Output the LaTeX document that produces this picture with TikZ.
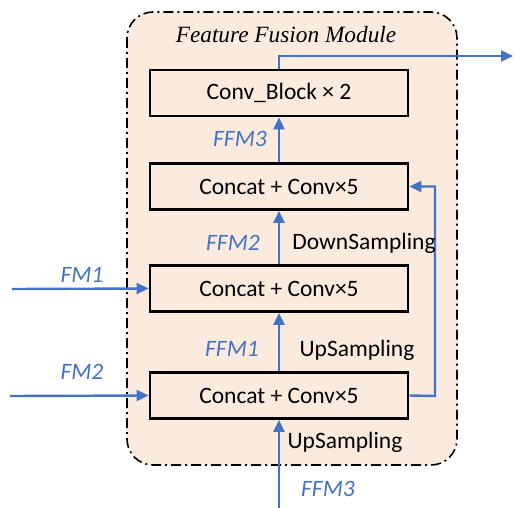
\documentclass[tikz,border=0pt]{standalone}
\usepackage{fontspec}
\setmainfont{Carlito}
\newfontfamily\titlefont{Liberation Serif}
\usetikzlibrary{arrows.meta}
\definecolor{fblue}{HTML}{4472C4}
\definecolor{peach}{HTML}{FBEBDF}
\tikzset{
  blk/.style={draw=black, line width=2.8pt, minimum width=258pt, minimum height=46pt, inner sep=0pt, font=\fontsize{23.5}{26}\selectfont},
  conn/.style={draw=fblue, line width=2.4pt, -{Triangle[length=12pt,width=11pt]}},
  blab/.style={text=fblue, font=\fontsize{23.5}{26}\selectfont\itshape, inner sep=0pt},
  klab/.style={text=black, font=\fontsize{23.5}{26}\selectfont, inner sep=0pt}
}
\begin{document}
\begin{tikzpicture}[x=1pt,y=-1pt]
\useasboundingbox (0,0) rectangle (514,508);
\draw[dash pattern=on 10pt off 4pt on 2pt off 4pt, line width=1.6pt, fill=peach, rounded corners=26pt] (127,12) rectangle (457,465);
\node[font=\titlefont\fontsize{23.3}{26}\selectfont\itshape, inner sep=0pt] (title) at (286,35) {Feature Fusion Module};
\node[blk] (b1) at (279,93) {Conv\_Block × 2};
\node[blk] (b2) at (279,186.5) {Concat + Conv×5};
\node[blk] (b3) at (279,288.5) {Concat + Conv×5};
\node[blk] (b4) at (279,395.5) {Concat + Conv×5};
\coordinate (out) at (513,56);
\coordinate (fm1) at (12,289);
\coordinate (fm2) at (10,396);
\coordinate (bot) at (279,508);
\coordinate (rc) at (435,396);
\draw[conn] (b1.north) |- (out);
\draw[conn] (b2.north) -- (b1.south);
\draw[conn] (b3.north) -- (b2.south);
\draw[conn] (b4.north) -- (b3.south);
\draw[conn] (bot) -- (b4.south);
\draw[conn] (fm1) -- (b3.west);
\draw[conn] (fm2) -- (b4.west);
\draw[conn] (b4.east) -- (rc) |- (b2.east);
\node[blab] (lffm3a) at (240,139) {FFM3};
\node[blab] (lffm2) at (233,243) {FFM2};
\node[klab] (ldown) at (364,243) {DownSampling};
\node[blab] (lffm1) at (232,349) {FFM1};
\node[klab] (lup1) at (357,350) {UpSampling};
\node[blab] (lfm1) at (82,275) {FM1};
\node[blab] (lfm2) at (82,372) {FM2};
\node[klab] (lup2) at (345,442) {UpSampling};
\node[blab] (lffm3b) at (328,489) {FFM3};
\end{tikzpicture}
\end{document}
